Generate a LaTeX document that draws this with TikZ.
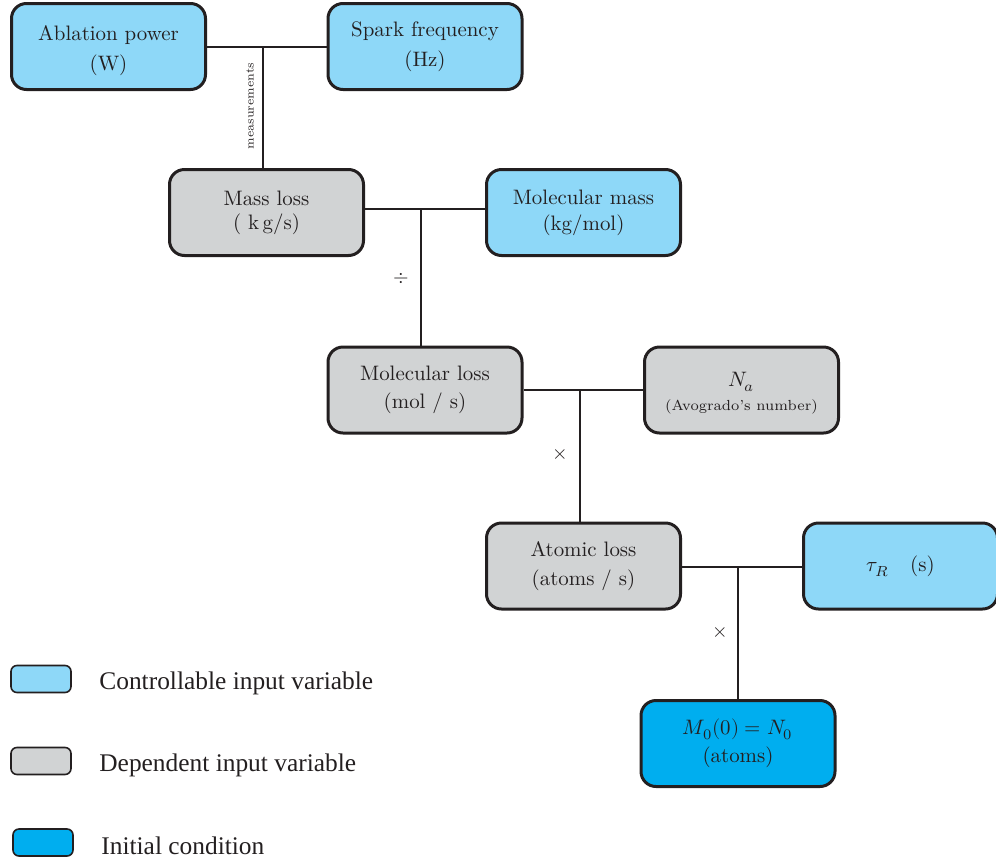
\documentclass[tikz,border=0pt]{standalone}
\usepackage{fontspec}
\newfontfamily\legendfont{Liberation Serif}
\usepackage{unicode-math}
\setmathfont{Latin Modern Math}
\definecolor{ctrlblue}{HTML}{8ED8F8}
\definecolor{depgray}{HTML}{D1D3D4}
\definecolor{initcyan}{HTML}{00AEEF}
\definecolor{edge}{HTML}{231F20}
\tikzset{
  varbox/.style={draw=edge, line width=1.5pt, rounded corners=7.5pt,
    minimum width=97pt, minimum height=43pt, align=center, text=edge,
    font=\fontsize{10.45}{15}\selectfont, inner sep=0pt},
  ctrl/.style={varbox, fill=ctrlblue},
  dep/.style={varbox, fill=depgray},
  init/.style={varbox, fill=initcyan},
  boxtext/.style={align=center, text=edge, font=\fontsize{10.45}{15}\selectfont, inner sep=0pt},
  link/.style={draw=edge, line width=1pt},
  legbox/.style={draw=edge, line width=0.8pt, rounded corners=3pt,
    minimum width=30pt, minimum height=13.5pt, inner sep=0pt},
  legtext/.style={anchor=west, text=edge, font=\legendfont\fontsize{12.7}{14}\selectfont, inner sep=0pt},
  opsym/.style={text=edge, inner sep=0pt}
}
\begin{document}
\begin{tikzpicture}[x=0.5pt, y=-0.5pt]
\useasboundingbox (0,0) rectangle (996,863);
% boxes
\node[ctrl] (abl) at (108.5,46.5) {};
\node[boxtext] (ablt) at (108.5,51) {Ablation power\\(W)};
\node[ctrl] (spark) at (425,46.5) {Spark frequency\\(Hz)};
\node[dep, font=\fontsize{10.45}{12}\selectfont] (mass) at (266.5,212.5) {Mass loss\\( k\,g/s)};
\node[ctrl, font=\fontsize{10.45}{13}\selectfont] (molmass) at (583.5,212.5) {Molecular mass\\(kg/mol)};
\node[dep, font=\fontsize{10.45}{14}\selectfont] (molloss) at (425,390) {Molecular loss\\(mol / s)};
\node[dep] (na) at (741.5,390) {};
\node[boxtext] (nat) at (741.5,393) {$N_a$\\[-3pt]{\fontsize{7.3}{9}\selectfont (Avogrado's number)}};
\node[dep, font=\fontsize{10.45}{14.5}\selectfont] (atom) at (583.5,566) {Atomic loss\\(atoms / s)};
\node[ctrl] (tau) at (900.5,566) {$\tau_R$\quad (s)};
\node[init, font=\fontsize{10.45}{14}\selectfont] (mzero) at (738,743.5) {$M_0(0)=N_0$\\(atoms)};
% connectors
\draw[link] (abl.east) -- (spark.west);
\coordinate (j1) at (263,46.5);
\draw[link] (j1) -- (j1 |- mass.north);
\node[opsym, rotate=90, font=\fontsize{5.8}{7}\selectfont] (meas) at (250,106) {measurements};
\draw[link] (mass.east |- 0,209) -- (molmass.west |- 0,209);
\coordinate (j2) at (421,209);
\draw[link] (j2) -- (j2 |- molloss.north);
\node[opsym] (div) at (401,278) {$\div$};
\draw[link] (molloss.east) -- (na.west);
\coordinate (j3) at (580,390);
\draw[link] (j3) -- (j3 |- atom.north);
\node[opsym] (mul1) at (560,455) {$\times$};
\draw[link] (atom.east |- 0,567) -- (tau.west |- 0,567);
\coordinate (j4) at (738,567);
\draw[link] (j4) -- (j4 |- mzero.north);
\node[opsym] (mul2) at (720,633) {$\times$};
% legend
\node[legbox, fill=ctrlblue] (l1) at (41,679) {};
\node[legtext] (t1) at (99,683) {Controllable input variable};
\node[legbox, fill=depgray] (l2) at (41,761) {};
\node[legtext] (t2) at (99,765) {Dependent input variable};
\node[legbox, fill=initcyan] (l3) at (43,842.5) {};
\node[legtext] (t3) at (101,846) {Initial condition};
\end{tikzpicture}
\end{document}
